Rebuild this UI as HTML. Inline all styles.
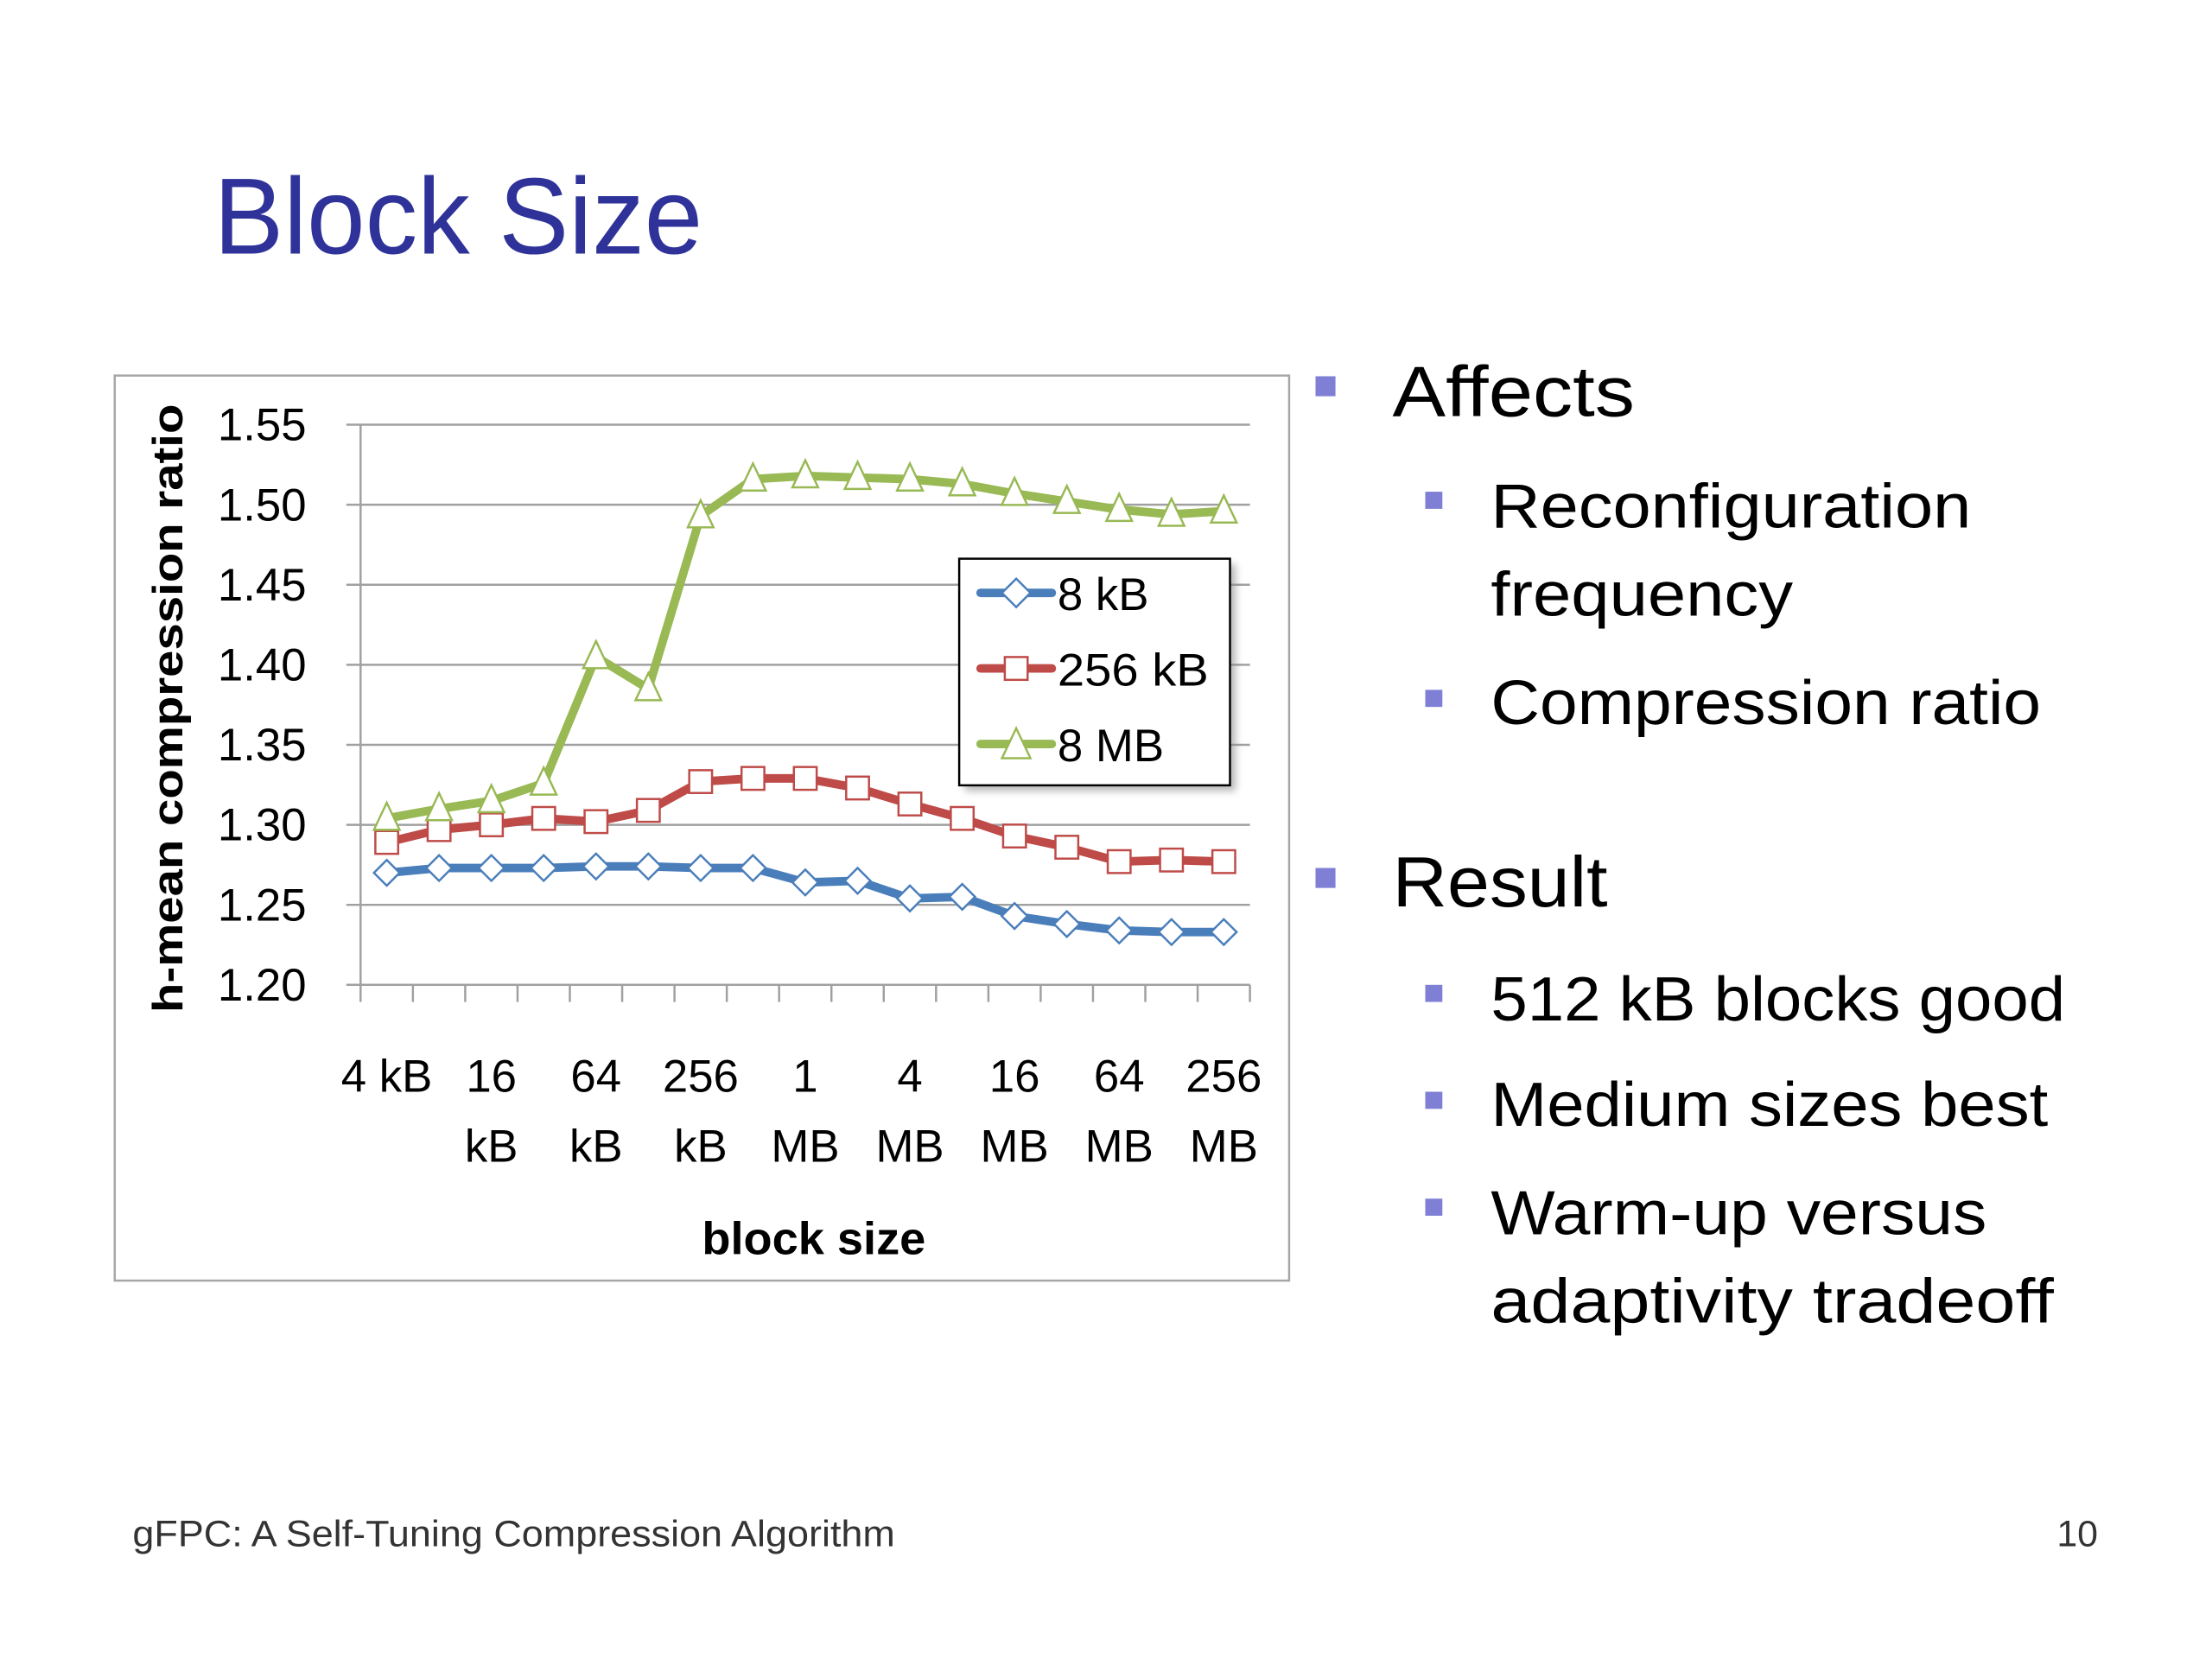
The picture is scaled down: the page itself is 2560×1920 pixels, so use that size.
<!DOCTYPE html>
<html><head><meta charset="utf-8"><style>
html,body{margin:0;padding:0;background:#fff;}
svg{display:block;font-family:"Liberation Sans",sans-serif;}
</style></head><body>
<svg id="slide" width="2560" height="1920" viewBox="0 0 1552 1164" xmlns="http://www.w3.org/2000/svg">
<defs><filter id="sh" x="-10%" y="-10%" width="130%" height="130%"><feGaussianBlur stdDeviation="2.5"/></filter></defs>
<text x="150" y="178" font-size="76" fill="#2f3399" textLength="343" lengthAdjust="spacingAndGlyphs">Block Size</text>

<rect x="80.5" y="263.5" width="824" height="635" fill="#fff" stroke="#a6a6a6" stroke-width="1.5"/>
<g id="grid"></g>
<g id="axes"></g>
<g id="series"></g>
<text transform="translate(128,497) rotate(-90)" text-anchor="middle" font-size="30" font-weight="bold" fill="#000" textLength="427" lengthAdjust="spacingAndGlyphs">h-mean compression ratio</text>
<text x="571" y="880" text-anchor="middle" font-size="32" font-weight="bold" textLength="157" lengthAdjust="spacingAndGlyphs">block size</text>

<g>
<rect x="677" y="396" width="190" height="159" fill="#888" opacity="0.6" filter="url(#sh)"/>
<rect x="673" y="392" width="190" height="159" fill="#fff" stroke="#000" stroke-width="1.5"/>
<g>
<line x1="688" y1="416" x2="738" y2="416" stroke="#4a7ebb" stroke-width="6" stroke-linecap="round"/>
<polygon points="713,406 723,416 713,426 703,416" fill="#fff" stroke="#4a7ebb" stroke-width="1.5"/>
<text x="742" y="428" font-size="32">8 kB</text></g>
<g>
<line x1="688" y1="469" x2="738" y2="469" stroke="#be4b48" stroke-width="6" stroke-linecap="round"/>
<rect x="705" y="461" width="16" height="16" fill="#fff" stroke="#be4b48" stroke-width="1.5"/>
<text x="742" y="481" font-size="32" textLength="106" lengthAdjust="spacingAndGlyphs">256 kB</text></g>
<g>
<line x1="688" y1="522" x2="738" y2="522" stroke="#98b954" stroke-width="6" stroke-linecap="round"/>
<polygon points="713,511 723,532 703,532" fill="#fff" stroke="#98b954" stroke-width="1.5"/>
<text x="742" y="534" font-size="32">8 MB</text></g>
</g>

<g fill="#000">
<rect x="923" y="264" width="14" height="14" fill="#7f7fd5"/>
<text x="977" y="292" font-size="50" textLength="170" lengthAdjust="spacingAndGlyphs">Affects</text>
<rect x="1000" y="345" width="12" height="12" fill="#7f7fd5"/>
<text x="1046" y="370" font-size="44" textLength="337" lengthAdjust="spacingAndGlyphs">Reconfiguration</text>
<text x="1046" y="432" font-size="44" textLength="212" lengthAdjust="spacingAndGlyphs">frequency</text>
<rect x="1000" y="484" width="12" height="12" fill="#7f7fd5"/>
<text x="1046" y="508" font-size="44" textLength="386" lengthAdjust="spacingAndGlyphs">Compression ratio</text>
<rect x="923" y="609" width="14" height="14" fill="#7f7fd5"/>
<text x="977" y="636" font-size="50" textLength="151" lengthAdjust="spacingAndGlyphs">Result</text>
<rect x="1000" y="691" width="12" height="12" fill="#7f7fd5"/>
<text x="1046" y="716" font-size="44" textLength="403" lengthAdjust="spacingAndGlyphs">512 kB blocks good</text>
<rect x="1000" y="766" width="12" height="12" fill="#7f7fd5"/>
<text x="1046" y="790" font-size="44" textLength="391" lengthAdjust="spacingAndGlyphs">Medium sizes best</text>
<rect x="1000" y="841" width="12" height="12" fill="#7f7fd5"/>
<text x="1046" y="866" font-size="44" textLength="348" lengthAdjust="spacingAndGlyphs">Warm-up versus</text>
<text x="1046" y="928" font-size="44" textLength="395" lengthAdjust="spacingAndGlyphs">adaptivity tradeoff</text>
</g>
<text x="93" y="1085" font-size="26" fill="#333" textLength="535" lengthAdjust="spacingAndGlyphs">gFPC: A Self-Tuning Compression Algorithm</text>
<text x="1472" y="1085" font-size="26" fill="#333" text-anchor="end">10</text>
</svg>
<script>
const categories = ["4 kB","8 kB","16 kB","32 kB","64 kB","128 kB","256 kB","512 kB","1 MB","2 MB","4 MB","8 MB","16 MB","32 MB","64 MB","128 MB","256 MB"];
const series8kB = [1.270,1.273,1.273,1.273,1.274,1.274,1.273,1.273,1.264,1.265,1.254,1.255,1.243,1.238,1.234,1.233,1.233];
const series256kB = [1.289,1.297,1.300,1.304,1.302,1.309,1.327,1.329,1.329,1.323,1.313,1.304,1.293,1.286,1.277,1.278,1.277];
const series8MB = [1.304,1.310,1.315,1.326,1.405,1.385,1.493,1.516,1.518,1.517,1.516,1.513,1.507,1.502,1.497,1.494,1.496];
const yTicks = [1.20,1.25,1.30,1.35,1.40,1.45,1.50,1.55];
const xLabelLine1 = ["4 kB","16","64","256","1","4","16","64","256"];
const xLabelLine2 = ["","kB","kB","kB","MB","MB","MB","MB","MB"];

const NS="http://www.w3.org/2000/svg";
const X0=253, X1=877, Y0=691, Y1=298, YMIN=1.20, YMAX=1.55;
const band=(X1-X0)/categories.length;
function xPos(i){return X0+band*(i+0.5);}
function yPos(v){return Y0-(v-YMIN)/(YMAX-YMIN)*(Y0-Y1);}
function mk(tag,attrs,parent){const e=document.createElementNS(NS,tag);for(const k in attrs)e.setAttribute(k,attrs[k]);parent.appendChild(e);return e;}
const grid=document.getElementById('grid'), axes=document.getElementById('axes'), sg=document.getElementById('series');

yTicks.forEach((t,i)=>{
  const y=yPos(t);
  if(i>0){const l=mk('line',{x1:X0-10,x2:X1,y1:y,y2:y,stroke:'#a0a0a0','stroke-width':1.5},grid);
  
  }
  const tx=mk('text',{x:215,y:y+11,'text-anchor':'end','font-size':32},axes);
  tx.textContent=t.toFixed(2);
  
  
});
mk('line',{x1:X0,x2:X0,y1:Y1,y2:Y0,stroke:'#a0a0a0','stroke-width':1.5},axes);
mk('line',{x1:X0-10,x2:X1,y1:Y0,y2:Y0,stroke:'#a0a0a0','stroke-width':1.5},axes);
for(let i=0;i<=categories.length;i++){
  const x=X0+band*i;
  mk('line',{x1:x,x2:x,y1:Y0,y2:Y0+12,stroke:'#a0a0a0','stroke-width':1.5},axes);
}
xLabelLine1.forEach((s,j)=>{
  const x=xPos(j*2);
  const t1=mk('text',{x:x,y:766,'text-anchor':'middle','font-size':32},axes);
  t1.textContent=s;
  
  
  if(xLabelLine2[j]){const t2=mk('text',{x:x,y:815,'text-anchor':'middle','font-size':32},axes);
  t2.textContent=xLabelLine2[j];
  
  }
});

function drawSeries(vals,color,shape,name){
  const g=mk('g',{},sg);
  
  
  const pts=vals.map((v,i)=>xPos(i)+','+yPos(v)).join(' ');
  const pl=mk('polyline',{points:pts,fill:'none',stroke:color,'stroke-width':6,'stroke-linejoin':'round','stroke-linecap':'round'},g);
  
  
  vals.forEach((v,i)=>{
    const x=xPos(i),y=yPos(v);let m;
    if(shape==='d')m=mk('polygon',{points:`${x},${y-9} ${x+9},${y} ${x},${y+9} ${x-9},${y}`},g);
    else if(shape==='s')m=mk('rect',{x:x-8,y:y-8,width:16,height:16},g);
    else m=mk('polygon',{points:`${x},${y-11} ${x+9},${y+8} ${x-9},${y+8}`},g);
    m.setAttribute('fill','#fff');m.setAttribute('stroke',color);m.setAttribute('stroke-width','1.5');
    
    
  });
}
drawSeries(series8kB,'#4a7ebb','d','8kb');
drawSeries(series256kB,'#be4b48','s','256kb');
drawSeries(series8MB,'#98b954','t','8mb');
</script>
</body></html>
